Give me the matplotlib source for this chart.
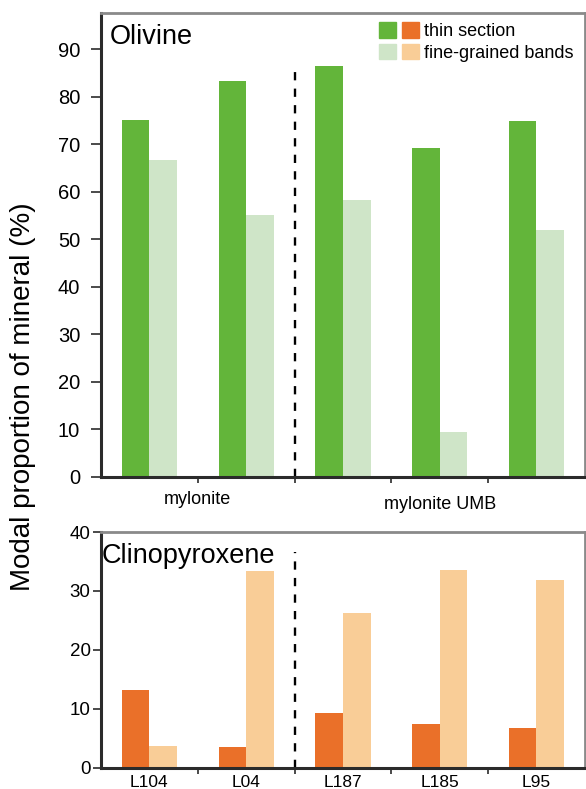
import matplotlib
matplotlib.use('Agg')
import matplotlib.pyplot as pyplot
import matplotlib.patches as patches
from matplotlib.legend_handler import HandlerTuple
import numpy


SAMPLES = ['L104', 'L04', 'L187', 'L185', 'L95']
ROCK_GROUPS = ['mylonite', 'mylonite UMB']
ROCK_GROUP_CENTERS = [0.5, 3.0]

OLIVINE_THIN_SECTION = [75.2, 83.4, 86.5, 69.3, 74.9]
OLIVINE_BANDS = [66.8, 55.1, 58.3, 9.4, 52.0]

CPX_THIN_SECTION = [13.2, 3.5, 9.2, 7.4, 6.8]
CPX_BANDS = [3.7, 33.4, 26.3, 33.5, 31.8]

GREEN = '#63b53a'
LIGHT_GREEN = '#cfe5c8'
ORANGE = '#ea7029'
LIGHT_ORANGE = '#f9cd97'

BAR_WIDTH = 0.285
FONT = 'Liberation Sans'


def style_frame(axes):
    axes.spines['left'].set_color('#2b2b2b')
    axes.spines['bottom'].set_color('#2b2b2b')
    axes.spines['left'].set_linewidth(2.2)
    axes.spines['bottom'].set_linewidth(2.2)
    axes.spines['top'].set_color('#8a8a8a')
    axes.spines['right'].set_color('#8a8a8a')
    axes.spines['top'].set_linewidth(2.0)
    axes.spines['right'].set_linewidth(2.0)
    axes.tick_params(axis='x', which='major', direction='out', length=4.5,
                     width=1.2, color='#2b2b2b')
    axes.set_xlim(-0.5, len(SAMPLES) - 0.5)
    axes.set_xticks(numpy.arange(len(SAMPLES) - 1) + 0.5)


def draw_bars(axes, thin_values, band_values, dark, light):
    positions = numpy.arange(len(SAMPLES))
    thin = axes.bar(positions - BAR_WIDTH / 2, thin_values, BAR_WIDTH,
                    color=dark, linewidth=0)
    bands = axes.bar(positions + BAR_WIDTH / 2, band_values, BAR_WIDTH,
                     color=light, linewidth=0)
    return thin, bands


pyplot.rcParams['font.family'] = [FONT, 'DejaVu Sans']

figure = pyplot.figure(figsize=(5.86, 7.89), dpi=100)
top_axes = figure.add_axes([0.1724, 0.396, 0.8256, 0.587])
bottom_axes = figure.add_axes([0.1724, 0.027, 0.8256, 0.2987])

# olivine panel
draw_bars(top_axes, OLIVINE_THIN_SECTION, OLIVINE_BANDS, GREEN, LIGHT_GREEN)
style_frame(top_axes)
top_axes.tick_params(axis='y', direction='out', length=7, width=1.2,
                     color='#2b2b2b', labelsize=14.5, pad=8)
top_axes.set_ylim(0, 97.6)
top_axes.set_yticks(numpy.arange(0, 100, 10))
top_axes.set_xticklabels([])
top_axes.axvline(1.5, ymin=0, ymax=0.884, color='black',
                 linestyle=(0, (3.5, 3.5)), linewidth=1.7)
for name, center, offset in zip(ROCK_GROUPS, ROCK_GROUP_CENTERS, [-0.049, -0.061]):
    top_axes.text(center, offset, name, transform=top_axes.get_xaxis_transform(),
                  ha='center', va='center', fontsize=13)
top_axes.text(0.018, 0.934, 'Olivine', transform=top_axes.transAxes,
              ha='left', va='baseline', fontsize=19.5)

# legend with paired swatches
thin_handle = (patches.Patch(color=GREEN), patches.Patch(color=ORANGE))
band_handle = (patches.Patch(color=LIGHT_GREEN), patches.Patch(color=LIGHT_ORANGE))
top_axes.legend([thin_handle, band_handle], ['thin section', 'fine-grained bands'],
                handler_map={tuple: HandlerTuple(ndivide=None, pad=0.33)},
                loc='upper right', bbox_to_anchor=(0.976, 0.981), frameon=False,
                fontsize=13, handlelength=2.2, handleheight=0.93,
                handletextpad=0.26, labelspacing=0.2, borderpad=0,
                borderaxespad=0)

# clinopyroxene panel
draw_bars(bottom_axes, CPX_THIN_SECTION, CPX_BANDS, ORANGE, LIGHT_ORANGE)
style_frame(bottom_axes)
bottom_axes.tick_params(axis='y', direction='out', length=5.5, width=1.2,
                        color='#2b2b2b', labelsize=13.5, pad=2)
bottom_axes.set_ylim(0, 40)
bottom_axes.set_yticks(numpy.arange(0, 50, 10))
bottom_axes.set_xticklabels([])
bottom_axes.set_xticks(numpy.arange(len(SAMPLES)), minor=True)
bottom_axes.set_xticklabels(SAMPLES, minor=True)
bottom_axes.tick_params(axis='x', which='minor', length=0, labelsize=12.5, pad=5)
bottom_axes.axvline(1.5, ymin=0, ymax=0.915, color='black',
                    linestyle=(0, (3.5, 3.5)), linewidth=1.7)
bottom_axes.text(0.001, 0.868, 'Clinopyroxene', transform=bottom_axes.transAxes,
                 ha='left', va='baseline', fontsize=19.5)

figure.text(0.040, 0.497, 'Modal proportion of mineral (%)', rotation=90,
            ha='center', va='center', fontsize=20)

figure.savefig('out.png', dpi=100)
